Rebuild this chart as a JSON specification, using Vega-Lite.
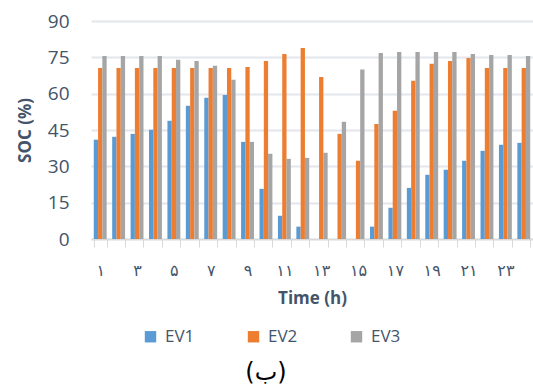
{
  "$schema": "https://vega.github.io/schema/vega-lite/v6.json",
  "width": 442,
  "height": 218,
  "autosize": {"type": "none"},
  "padding": {"left": 91, "top": 21, "right": 0, "bottom": 153},
  "background": "white",
  "title": {
    "text": "(ب)",
    "orient": "bottom",
    "anchor": "middle",
    "frame": "group",
    "offset": 16,
    "dx": -46,
    "font": "DejaVu Sans",
    "fontSize": 24,
    "fontWeight": "normal",
    "color": "#000000"
  },
  "data": {
    "values": [
      {"hour": 1, "series": "EV1", "soc": 41}, {"hour": 1, "series": "EV2", "soc": 70.6}, {"hour": 1, "series": "EV3", "soc": 75.6},
      {"hour": 2, "series": "EV1", "soc": 42.2}, {"hour": 2, "series": "EV2", "soc": 70.6}, {"hour": 2, "series": "EV3", "soc": 75.6},
      {"hour": 3, "series": "EV1", "soc": 43.4}, {"hour": 3, "series": "EV2", "soc": 70.6}, {"hour": 3, "series": "EV3", "soc": 75.6},
      {"hour": 4, "series": "EV1", "soc": 45.1}, {"hour": 4, "series": "EV2", "soc": 70.6}, {"hour": 4, "series": "EV3", "soc": 75.6},
      {"hour": 5, "series": "EV1", "soc": 48.8}, {"hour": 5, "series": "EV2", "soc": 70.6}, {"hour": 5, "series": "EV3", "soc": 74.0},
      {"hour": 6, "series": "EV1", "soc": 55.0}, {"hour": 6, "series": "EV2", "soc": 70.6}, {"hour": 6, "series": "EV3", "soc": 73.5},
      {"hour": 7, "series": "EV1", "soc": 58.3}, {"hour": 7, "series": "EV2", "soc": 70.6}, {"hour": 7, "series": "EV3", "soc": 71.5},
      {"hour": 8, "series": "EV1", "soc": 59.5}, {"hour": 8, "series": "EV2", "soc": 70.6}, {"hour": 8, "series": "EV3", "soc": 65.7},
      {"hour": 9, "series": "EV1", "soc": 40.1}, {"hour": 9, "series": "EV2", "soc": 71.0}, {"hour": 9, "series": "EV3", "soc": 40.1},
      {"hour": 10, "series": "EV1", "soc": 20.7}, {"hour": 10, "series": "EV2", "soc": 73.5}, {"hour": 10, "series": "EV3", "soc": 35.2},
      {"hour": 11, "series": "EV1", "soc": 9.6}, {"hour": 11, "series": "EV2", "soc": 76.4}, {"hour": 11, "series": "EV3", "soc": 33.1},
      {"hour": 12, "series": "EV1", "soc": 5.1}, {"hour": 12, "series": "EV2", "soc": 78.9}, {"hour": 12, "series": "EV3", "soc": 33.5},
      {"hour": 13, "series": "EV1", "soc": 0}, {"hour": 13, "series": "EV2", "soc": 66.9}, {"hour": 13, "series": "EV3", "soc": 35.6},
      {"hour": 14, "series": "EV1", "soc": 0}, {"hour": 14, "series": "EV2", "soc": 43.4}, {"hour": 14, "series": "EV3", "soc": 48.4},
      {"hour": 15, "series": "EV1", "soc": 0}, {"hour": 15, "series": "EV2", "soc": 32.3}, {"hour": 15, "series": "EV3", "soc": 70.0},
      {"hour": 16, "series": "EV1", "soc": 5.1}, {"hour": 16, "series": "EV2", "soc": 47.5}, {"hour": 16, "series": "EV3", "soc": 76.8},
      {"hour": 17, "series": "EV1", "soc": 12.9}, {"hour": 17, "series": "EV2", "soc": 52.9}, {"hour": 17, "series": "EV3", "soc": 77.2},
      {"hour": 18, "series": "EV1", "soc": 21.1}, {"hour": 18, "series": "EV2", "soc": 65.3}, {"hour": 18, "series": "EV3", "soc": 77.2},
      {"hour": 19, "series": "EV1", "soc": 26.5}, {"hour": 19, "series": "EV2", "soc": 72.3}, {"hour": 19, "series": "EV3", "soc": 77.2},
      {"hour": 20, "series": "EV1", "soc": 28.6}, {"hour": 20, "series": "EV2", "soc": 73.5}, {"hour": 20, "series": "EV3", "soc": 77.2},
      {"hour": 21, "series": "EV1", "soc": 32.3}, {"hour": 21, "series": "EV2", "soc": 74.7}, {"hour": 21, "series": "EV3", "soc": 76.4},
      {"hour": 22, "series": "EV1", "soc": 36.4}, {"hour": 22, "series": "EV2", "soc": 70.6}, {"hour": 22, "series": "EV3", "soc": 76.0},
      {"hour": 23, "series": "EV1", "soc": 38.9}, {"hour": 23, "series": "EV2", "soc": 70.6}, {"hour": 23, "series": "EV3", "soc": 76.0},
      {"hour": 24, "series": "EV1", "soc": 39.7}, {"hour": 24, "series": "EV2", "soc": 70.6}, {"hour": 24, "series": "EV3", "soc": 75.6}
    ]
  },
  "mark": {"type": "bar"},
  "encoding": {
    "x": {
      "field": "hour",
      "type": "ordinal",
      "scale": {"paddingInner": 0.3, "paddingOuter": 0.15},
      "axis": {
        "title": "Time (h)",
        "titleFont": "Open Sans",
        "titleFontSize": 17,
        "titleFontWeight": "bold",
        "titleColor": "#44546A",
        "titlePadding": 12,
        "labelAngle": 0,
        "labelFont": "DejaVu Sans",
        "labelFontSize": 16,
        "labelColor": "#44546A",
        "labelPadding": 15,
        "labelExpr": "['', '۱', '', '۳', '', '۵', '', '۷', '', '۹', '', '۱۱', '', '۱۳', '', '۱۵', '', '۱۷', '', '۱۹', '', '۲۱', '', '۲۳', ''][datum.value]",
        "tickBand": "extent",
        "tickColor": "#D9D9D9",
        "tickSize": 8,
        "domainColor": "#D9D9D9",
        "domainWidth": 1.5,
        "grid": false
      }
    },
    "xOffset": {"field": "series", "type": "nominal", "scale": {"paddingInner": 0, "paddingOuter": 0}},
    "y": {
      "field": "soc",
      "type": "quantitative",
      "scale": {"domain": [0, 90], "nice": false},
      "axis": {
        "title": "SOC (%)",
        "titleFont": "Open Sans",
        "titleFontSize": 17,
        "titleFontWeight": "bold",
        "titleColor": "#44546A",
        "titlePadding": 13,
        "values": [0, 15, 30, 45, 60, 75, 90],
        "labelFont": "Open Sans",
        "labelFontSize": 19,
        "labelColor": "#44546A",
        "labelPadding": 22,
        "ticks": false,
        "domain": false,
        "grid": true,
        "gridColor": "#E3E6EC",
        "gridWidth": 2
      }
    },
    "color": {
      "field": "series",
      "type": "nominal",
      "scale": {"domain": ["EV1", "EV2", "EV3"], "range": ["#5B9BD5", "#ED7D31", "#A5A5A5"]},
      "legend": {
        "title": null,
        "orient": "none",
        "direction": "horizontal",
        "legendX": 51,
        "legendY": 307,
        "symbolType": "square",
        "symbolSize": 130,
        "symbolStrokeWidth": 0,
        "labelFont": "Open Sans",
        "labelFontSize": 17,
        "labelColor": "#44546A",
        "labelLimit": 200,
        "columnPadding": 50,
        "labelOffset": 6
      }
    }
  },
  "config": {"view": {"stroke": null}}
}
